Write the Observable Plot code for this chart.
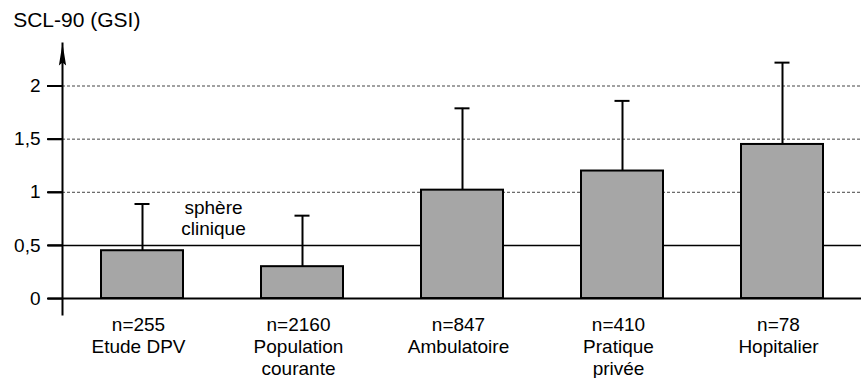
<!DOCTYPE html>
<html>
<head>
<meta charset="utf-8">
<script src="https://cdn.jsdelivr.net/npm/d3@7"></script>
<script src="https://cdn.jsdelivr.net/npm/@observablehq/plot@0.6"></script>
<style>
  html, body { margin: 0; padding: 0; background: #fff; }
  #chart svg { display: block; }
</style>
</head>
<body>
<div id="chart"></div>
<script>
const categories = ["Etude DPV", "Population\ncourante", "Ambulatoire", "Pratique\nprivée", "Hopitalier"];
const sampleSizes = [255, 2160, 847, 410, 78];
const means = [0.45, 0.30, 1.02, 1.20, 1.45];
const upperErrors = [0.89, 0.78, 1.79, 1.86, 2.22];
const yTicks = [0, 0.5, 1, 1.5, 2];
const dashedLevels = [1, 1.5, 2];
const clinicalThreshold = 0.5;
const yTitle = "SCL-90 (GSI)";
const annotation = "sphère\nclinique";

const data = categories.map((c, i) => ({cat: c, n: sampleSizes[i], mean: means[i], upper: upperErrors[i]}));
const yMin = -0.15, yMax = 2.4;
const W = 861, ML = 62, TICK = 15;

const arrowHead = {
  draw(ctx) {
    ctx.moveTo(0, 0);
    ctx.lineTo(3.6, 22);
    ctx.lineTo(0, 19);
    ctx.lineTo(-3.6, 22);
    ctx.closePath();
  }
};

const chart = Plot.plot({
  width: W,
  height: 378,
  marginLeft: ML,
  marginRight: 0,
  marginTop: 43,
  marginBottom: 64,
  style: {fontFamily: "'Liberation Sans', Arial, sans-serif", fontSize: "19px", color: "#000", background: "#fff"},
  x: {domain: categories, range: [60, 864], paddingInner: 0.486, paddingOuter: 0.246, label: null},
  y: {domain: [yMin, yMax], label: null},
  marks: [
    Plot.ruleY(dashedLevels, {stroke: "#444", strokeWidth: 1, strokeDasharray: "3,2"}),
    Plot.ruleY([clinicalThreshold], {stroke: "#000", strokeWidth: 1.5}),
    Plot.ruleX(data, {x: "cat", y1: "mean", y2: "upper", stroke: "#000", strokeWidth: 2}),
    Plot.tickY(data, {x: "cat", y: "upper", stroke: "#000", strokeWidth: 2, insetLeft: 33.5, insetRight: 33.5}),
    Plot.barY(data, {x: "cat", y1: 0, y2: "mean", fill: "#a6a6a6", stroke: "#000", strokeWidth: 2}),
    Plot.ruleY([0], {stroke: "#000", strokeWidth: 2}),
    Plot.ruleY(yTicks, {y: d => d, insetRight: W - ML - TICK, dx: -TICK, stroke: "#000", strokeWidth: 2}),
    Plot.frame({anchor: "left", stroke: "#000", strokeWidth: 2}),
    Plot.dot([yMax], {y: d => d, frameAnchor: "left", symbol: arrowHead, r: 5, fill: "#000", stroke: "none"}),
    Plot.axisY({ticks: yTicks, tickFormat: d => String(d).replace(".", ","), tickSize: 14, tickPadding: 8, stroke: "#000", strokeWidth: 2, fill: "#000", fontSize: 19, label: null}),
    Plot.axisX({tickSize: 0, tickPadding: 1, fontSize: 19, lineHeight: 1.15, dx: -4, fill: "#000",
      tickFormat: d => `n=${sampleSizes[categories.indexOf(d)]}\n${d}`, label: null}),
    Plot.text([annotation], {x: () => categories[0], y: () => clinicalThreshold, text: d => d, lineAnchor: "top", lineHeight: 1.1, dx: 71, dy: -46.5, fontSize: 19, fill: "#000"}),
    Plot.text([yTitle], {frameAnchor: "top-left", text: d => d, textAnchor: "start", lineAnchor: "top", dx: -49.3, dy: -31.4, fontSize: 21, fill: "#000"})
  ]
});
document.getElementById("chart").appendChild(chart);
</script>
</body>
</html>
